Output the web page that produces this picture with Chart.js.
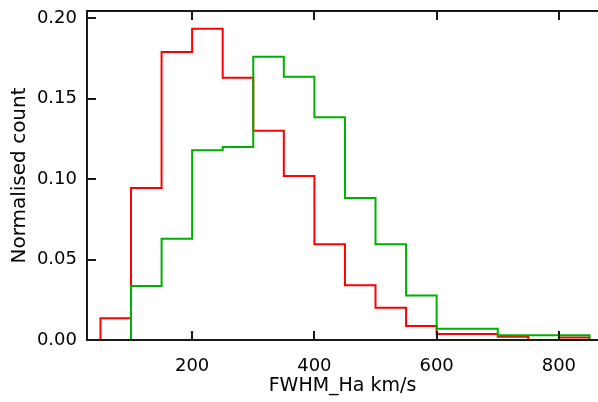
<!DOCTYPE html>
<html>
<head>
<meta charset="utf-8">
<script src="https://cdn.jsdelivr.net/npm/chart.js@4/dist/chart.umd.min.js"></script>
<style>
html,body{margin:0;padding:0;background:#fff;}
#c{display:block;}
</style>
</head>
<body>
<canvas id="c" width="598" height="402"></canvas>
<script>
// Histogram bin edges (FWHM_Ha km/s)
const binEdges = [50,100,150,200,250,300,350,400,450,500,550,600,650,700,750,800,850];
// Normalised counts per bin (null = no bin drawn)
const redCounts   = [0.0135,0.0945,0.179,0.1935,0.163,0.130,0.102,0.0595,0.034,0.020,0.0087,0.0037,0.0037,0.002,0.0,0.0015];
const greenCounts = [null,0.0336,0.063,0.118,0.120,0.176,0.1637,0.1385,0.0883,0.0595,0.0276,0.0070,0.0070,0.0029,0.0029,0.0029];
const xTickValues = [200,400,600,800];
const yTickValues = [0,0.05,0.10,0.15,0.20];
const xLabel = 'FWHM_Ha km/s';
const yLabel = 'Normalised count';

function stepPoints(edges, counts){
  const pts = [];
  let started = false, lastEdge = null;
  for (let i = 0; i < counts.length; i++){
    if (counts[i] === null) continue;
    if (!started){ pts.push({x: edges[i], y: 0}); started = true; }
    pts.push({x: edges[i+1], y: counts[i]});
    lastEdge = edges[i+1];
  }
  pts.push({x: lastEdge, y: 0});
  return pts;
}

const frameColor = '#1a1a1a';
const framePlugin = {
  id: 'frame',
  afterDatasetsDraw(chart){
    const {ctx, chartArea:a, scales:{x, y}} = chart;
    ctx.save();
    ctx.strokeStyle = frameColor;
    ctx.lineWidth = 2;
    ctx.beginPath();
    ctx.moveTo(a.left, a.top); ctx.lineTo(a.right, a.top);
    ctx.moveTo(a.left, a.top - 1); ctx.lineTo(a.left, a.bottom + 1);
    ctx.moveTo(a.left - 1, a.bottom); ctx.lineTo(a.right, a.bottom);
    ctx.stroke();
    const tl = 9;
    ctx.beginPath();
    yTickValues.forEach(v => {
      const py = Math.round(y.getPixelForValue(v));
      ctx.moveTo(a.left, py); ctx.lineTo(a.left + tl, py);
    });
    xTickValues.forEach(v => {
      const px = Math.round(x.getPixelForValue(v));
      ctx.moveTo(px, a.bottom); ctx.lineTo(px, a.bottom - tl);
      ctx.moveTo(px, a.top); ctx.lineTo(px, a.top + tl);
    });
    ctx.stroke();
    ctx.restore();
  }
};

const fontFam = '"DejaVu Sans", sans-serif';
new Chart(document.getElementById('c'), {
  type: 'line',
  data: {
    datasets: [
      { label: 'green', data: stepPoints(binEdges, greenCounts), borderColor: '#00b000', borderWidth: 2, stepped: 'after', pointRadius: 0, fill: false },
      { label: 'red', data: stepPoints(binEdges, redCounts), borderColor: '#ff0000', borderWidth: 2, stepped: 'after', pointRadius: 0, fill: false }
    ]
  },
  options: {
    responsive: false,
    animation: false,
    devicePixelRatio: 1,
    layout: { padding: { top: 11, right: 0, left: 0, bottom: 0 } },
    plugins: { legend: { display: false }, tooltip: { enabled: false } },
    scales: {
      x: {
        type: 'linear', min: 28, max: 864,
        afterFit(s){ s.height = 62; s.paddingLeft = 0; s.paddingRight = 0; },
        afterBuildTicks(s){ s.ticks = xTickValues.map(v => ({value: v})); },
        grid: { display: false, drawTicks: false },
        border: { display: false },
        ticks: { padding: 16, color: '#000', font: { family: fontFam, size: 18 }, callback: v => String(v), maxRotation: 0 },
        title: { display: true, text: xLabel, color: '#000', font: { family: fontFam, size: 19 }, padding: { top: 0, bottom: 5 } }
      },
      y: {
        type: 'linear', min: 0, max: 0.2045,
        afterFit(s){ s.width = 87; s.paddingTop = 0; s.paddingBottom = 0; },
        afterBuildTicks(s){ s.ticks = yTickValues.map(v => ({value: v})); },
        grid: { display: false, drawTicks: false },
        border: { display: false },
        ticks: { padding: 10, color: '#000', font: { family: fontFam, size: 18 }, callback: v => v.toFixed(2) },
        title: { display: true, text: yLabel, color: '#000', font: { family: fontFam, size: 20 }, padding: { top: 8, bottom: 0 } }
      }
    }
  },
  plugins: [framePlugin]
});
</script>
</body>
</html>
